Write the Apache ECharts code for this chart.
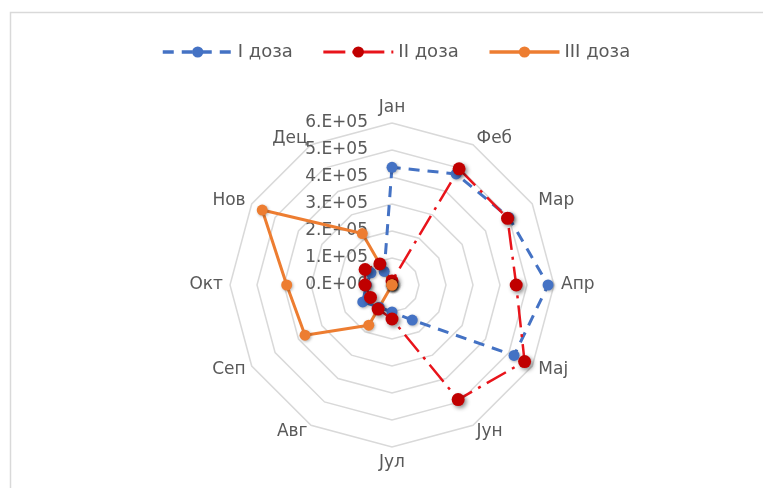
<!DOCTYPE html>
<html>
<head>
<meta charset="utf-8">
<script src="https://cdn.jsdelivr.net/npm/echarts@6/dist/echarts.min.js"></script>
<style>
  html, body { margin: 0; padding: 0; background: #fff; }
  #chart { width: 763px; height: 488px; }
</style>
</head>
<body>
<div id="chart"></div>
<script>
// ---- data ----
const months = ['Јан','Феб','Мар','Апр','Мај','Јун','Јул','Авг','Сеп','Окт','Нов','Дец'];
const seriesNames = ['I доза', 'II доза', 'III доза'];
const dose1 = [436000, 475000, 500000, 578000, 522000, 150000, 100000, 95000, 125000, 95000, 90000, 58000];
const dose2 = [15000, 497000, 494000, 460000, 567000, 490000, 126000, 103000, 92000, 100000, 115000, 90000];
const dose3 = [0, 0, 0, 0, 0, 0, 0, 172000, 372000, 390000, 555000, 220000];
const tickLabels = ['0.E+00','1.E+05','2.E+05','3.E+05','4.E+05','5.E+05','6.E+05'];
const axisMax = 600000;
const axisStep = 100000;

// clockwise ordering: Jan at top, Feb to its right
const order = [0].concat(months.map((_, i) => i).slice(1).reverse());
const reorder = arr => order.map(i => arr[i]);

const FONT = 'DejaVu Sans';
const GRAY = '#595959';

const styles = [
  { line: '#4472C4', marker: '#4472C4', width: 3, type: [11, 8], size: 11,
    shadow: { shadowBlur: 3, shadowColor: 'rgba(0,0,0,0.3)', shadowOffsetX: 1, shadowOffsetY: 1 } },
  { line: '#E8141B', marker: '#C00000', width: 2.5, type: [22, 7, 3, 7], size: 13,
    shadow: { shadowBlur: 4, shadowColor: 'rgba(0,0,0,0.45)', shadowOffsetX: 2, shadowOffsetY: 2 } },
  { line: '#ED7D31', marker: '#ED7D31', width: 3, type: 'solid', size: 11,
    shadow: { shadowBlur: 3, shadowColor: 'rgba(0,0,0,0.3)', shadowOffsetX: 1, shadowOffsetY: 1 } }
];
const legendDash = [[11, 8], [22, 7, 3, 7], 'solid'];
const values = [dose1, dose2, dose3];

const indicator = order.map((i, k) => {
  const o = { name: months[i], max: axisMax, min: 0 };
  if (k === 0) o.axisLabel = { show: true };
  return o;
});

// legend-only line series (empty) so the legend shows line + marker icons
const legendSeries = seriesNames.map((n, k) => ({
  type: 'line', name: n, data: [], symbol: 'circle',
  lineStyle: { color: styles[k].line, width: styles[k].width, type: styles[k].type },
  itemStyle: { color: styles[k].marker }
}));

const chart = echarts.init(document.getElementById('chart'), null, { renderer: 'canvas' });
chart.setOption({
  backgroundColor: '#fff',
  animation: false,
  graphic: [{
    type: 'rect', z: -10,
    shape: { x: 10.5, y: 12.5, width: 800, height: 500 },
    style: { fill: 'none', stroke: '#d9d9d9', lineWidth: 1.5 }
  }],
  grid: { show: false, left: 0, top: 0, width: 1, height: 1 },
  xAxis: { show: false, type: 'value' },
  yAxis: { show: false, type: 'value' },
  legend: {
    top: 38, left: 156,
    itemWidth: 70, itemHeight: 14, itemGap: 29,
    textStyle: { fontFamily: FONT, fontSize: 18, color: GRAY },
    data: seriesNames.map((n, k) => ({
      name: n,
      lineStyle: { color: styles[k].line, width: styles[k].width + 0.5, type: legendDash[k] },
      itemStyle: { color: styles[k].marker }
    }))
  },
  radar: {
    center: [392, 285],
    radius: 162,
    startAngle: 90,
    splitNumber: 6,
    shape: 'polygon',
    indicator: indicator,
    axisName: { fontFamily: FONT, fontSize: 17, color: GRAY },
    nameGap: 7,
    splitLine: { lineStyle: { color: '#d9d9d9', width: 1.5 } },
    splitArea: { show: false },
    axisLine: { show: false },
    axisTick: { show: false },
    axisLabel: {
      show: false,
      fontFamily: FONT, fontSize: 17, color: GRAY, margin: 24,
      formatter: v => tickLabels[Math.round(v / axisStep)]
    }
  },
  series: legendSeries.concat([{
    type: 'radar',
    symbol: 'circle',
    data: seriesNames.map((n, k) => ({
      name: n, value: reorder(values[k]),
      symbolSize: styles[k].size,
      lineStyle: { color: styles[k].line, width: styles[k].width, type: styles[k].type },
      itemStyle: Object.assign({ color: styles[k].marker }, styles[k].shadow)
    }))
  }])
});
</script>
</body>
</html>
